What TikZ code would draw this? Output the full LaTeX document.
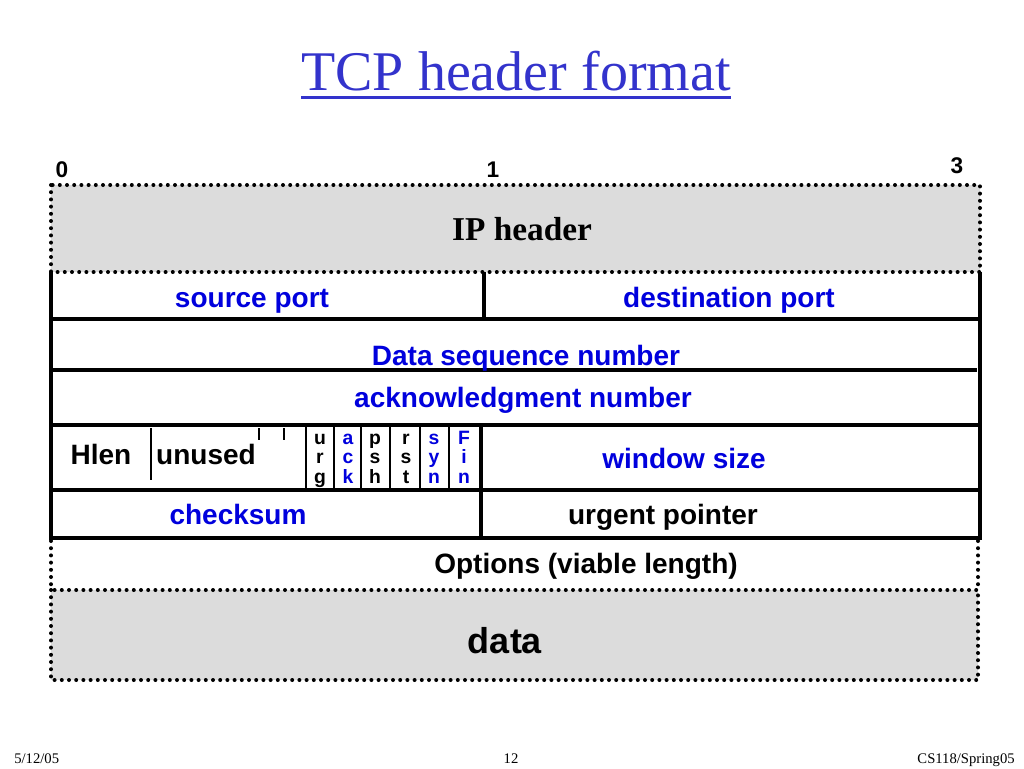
\documentclass[tikz,border=0pt]{standalone}
\usepackage{fontspec}
\setmainfont{Liberation Serif}
\setsansfont{Liberation Sans}
\definecolor{ipgray}{HTML}{DCDCDC}
\definecolor{fblue}{HTML}{0000DD}
\definecolor{tblue}{HTML}{3333CC}
\begin{document}
\begin{tikzpicture}[x=0.75pt,y=-0.75pt,
  lab/.style={font=\sffamily\bfseries\fontsize{21}{25}\selectfont, inner sep=0pt, anchor=base},
  bl/.style={text=fblue},
  flag/.style={font=\sffamily\bfseries\fontsize{14.5}{17}\selectfont, inner sep=0pt, anchor=base},
  num/.style={font=\sffamily\bfseries\fontsize{17}{20}\selectfont, inner sep=0pt, anchor=base},
  foot/.style={font=\fontsize{11}{13}\selectfont, inner sep=0pt, anchor=base},
  solidln/.style={line width=2.8pt, line cap=rect},
  thinln/.style={line width=1.1pt},
  dotb/.style={line width=3pt, line cap=round, dash pattern=on 0pt off 5.4pt}
]
\useasboundingbox (0,0) rectangle (1024,768);
\fill[white] (0,0) rectangle (1024,768);

% title
\node[font=\fontsize{42}{48}\selectfont, text=tblue, inner sep=0pt, anchor=base] (title) at (516,90) {TCP header format};
\draw[tblue, line width=2.2pt] ([yshift=-5.5pt]title.base west) -- ([yshift=-5.5pt]title.base east);

% bit numbers
\node[num] (n0) at (62,177) {0};
\node[num] (n1) at (493,177) {1};
\node[num] (n3) at (957,173) {3};

% IP header
\fill[ipgray] (51,185) rectangle (980,272);
\draw[dotb] (51,185) rectangle (980,272);
\node[font=\bfseries\fontsize{25}{30}\selectfont, inner sep=0pt, anchor=base] (ip) at (522,240) {IP header};

% TCP header frame
\draw[solidln, line cap=butt] (51,272) -- (51,538) -- (980,538) -- (980,272);
\draw[solidln] (51,319) -- (977,319);
\draw[solidln] (51,370) -- (975,370);
\draw[solidln] (51,425) -- (980,425);
\draw[solidln] (51,490) -- (980,490);
\draw[solidln, line cap=butt] (484,272) -- (484,319);
\draw[solidln, line cap=butt] (481,425) -- (481,536);

% thin separators
\draw[thinln] (151,428) -- (151,480);
\draw[thinln] (259,428) -- (259,440);
\draw[thinln] (284,428) -- (284,440);
\foreach \x in {306,334,361,390,420,449}
  \draw[thinln] (\x,427) -- (\x,490);

% labels
\node[lab,bl] (sp) at (252,307) {source port};
\node[lab,bl] (dp) at (729,307) {destination port};
\node[lab,bl] (seq) at (526,365) {Data sequence number};
\node[lab,bl] (ackn) at (523,407) {acknowledgment number};
\node[lab] (hlen) at (101,464) {Hlen};
\node[lab] (unused) at (206,464) {unused};
\node[lab,bl] (win) at (684,468) {window size};
\node[lab,bl] (cks) at (238,524) {checksum};
\node[lab] (urg) at (663,524) {urgent pointer};

% flags
\foreach \x/\a/\b/\c/\col [count=\i] in {320/u/r/g/black, 348/a/c/k/fblue, 375/p/s/h/black, 406/r/s/t/black, 434/s/y/n/fblue, 464/F/i/n/fblue} {
  \node[flag,text=\col] (f\i a) at (\x,444) {\a};
  \node[flag,text=\col] (f\i b) at (\x,463.5) {\b};
  \node[flag,text=\col] (f\i c) at (\x,483) {\c};
}

% options
\draw[dotb] (51,541) -- (51,590);
\draw[dotb] (978,541) -- (978,590);
\node[lab] (opt) at (586,573) {Options (viable length)};

% data
\fill[ipgray] (51,590) rectangle (978,680);
\draw[dotb] (51,590) rectangle (978,680);
\node[lab, font=\sffamily\bfseries\fontsize{27}{32}\selectfont] (data) at (505,653) {data};

% footer
\node[foot, anchor=base west] (date) at (14,763) {5/12/05};
\node[foot] (page) at (511,763) {12};
\node[foot, anchor=base east] (course) at (1015,763) {CS118/Spring05};
\end{tikzpicture}
\end{document}
